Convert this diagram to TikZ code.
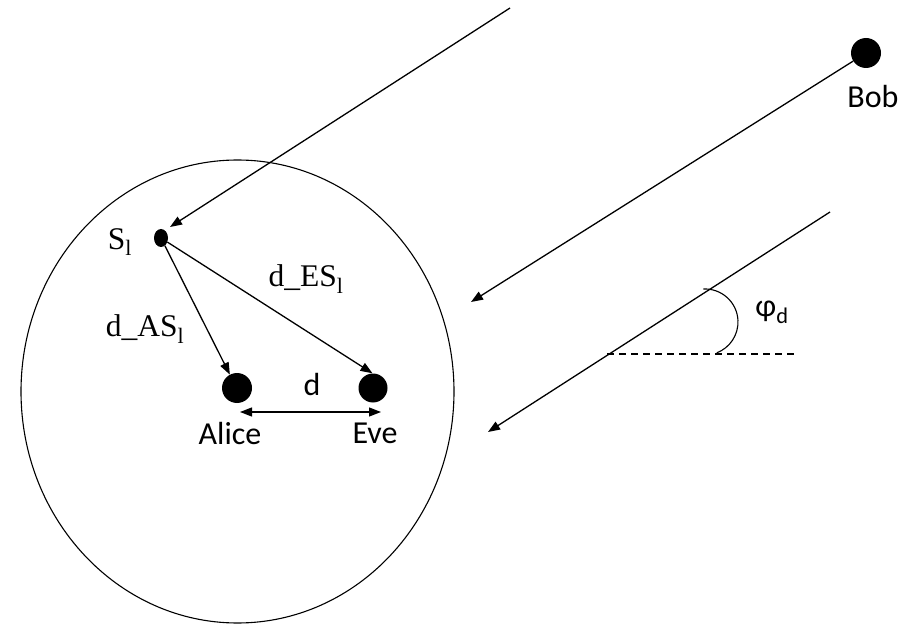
\documentclass[tikz,border=0pt]{standalone}
\usepackage{fontspec}
\setmainfont{Liberation Serif}
\newfontfamily\carl{Carlito}
\usetikzlibrary{arrows.meta,shapes.geometric}
\tikzset{
  dot/.style={circle,fill=black,inner sep=0pt},
  tip/.style={Triangle[length=12pt,width=9pt]},
  ray/.style={line width=1.3pt,-{Triangle[length=12pt,width=9pt]}},
  serlab/.style={font=\fontsize{31.5}{33}\selectfont,inner sep=0pt},
  sanlab/.style={font=\carl\fontsize{32}{34}\selectfont,inner sep=0pt},
}
\begin{document}
\begin{tikzpicture}[x=1pt,y=1pt]
\useasboundingbox (0,0) rectangle (908,625);
% region
\node[draw,ellipse,line width=1.1pt,minimum width=433,minimum height=463,inner sep=0pt] (reg) at (237.5,233.5) {};
% nodes
\node[dot,ellipse,minimum width=14,minimum height=18] (S) at (161,387) {};
\node[dot,minimum size=30] (A) at (237,237) {};
\node[dot,minimum size=29] (E) at (373,237) {};
\node[dot,minimum size=30] (B) at (866,572) {};
% labels
\node[serlab] (Slab) at (120,383) {S\textsubscript{l}};
\node[serlab] (dAS) at (145,296) {d\_AS\textsubscript{l}};
\node[serlab] (dES) at (306,346) {d\_ES\textsubscript{l}};
\node[sanlab] (Alab) at (230,192) {Alice};
\node[sanlab] (Elab) at (375,192) {Eve};
\node[sanlab] (Blab) at (873,528) {Bob};
\node[sanlab] (dlab) at (312,241) {d};
\node[sanlab] (phlab) at (772,313) {φ\textsubscript{d}};
% coordinates
\coordinate (p1) at (510,617);
\coordinate (st) at (170,398);
\coordinate (p2) at (471,323);
\coordinate (p3s) at (830,413);
\coordinate (p3e) at (488,193);
\coordinate (dl) at (240,213);
\coordinate (dr) at (381,213);
\coordinate (hs) at (607,271);
\coordinate (he) at (798,271);
\coordinate (ac) at (705,303);
% connectors
\draw[ray] (p1) -- (st);
\draw[ray] (S) -- (A.118);
\draw[ray] (S) -- (E.92);
\draw[line width=1.3pt,{Triangle[length=12pt,width=9pt]}-{Triangle[length=12pt,width=9pt]}] (dl) -- (dr);
\draw[ray] (B) -- (p2);
\draw[ray] (p3s) -- (p3e);
\draw[line width=1.1pt,dash pattern=on 7pt off 5pt] (hs) -- (he);
\draw[line width=1.1pt] ([shift={(93:33)}]ac) arc[start angle=93,end angle=-69,radius=33];
\end{tikzpicture}
\end{document}
